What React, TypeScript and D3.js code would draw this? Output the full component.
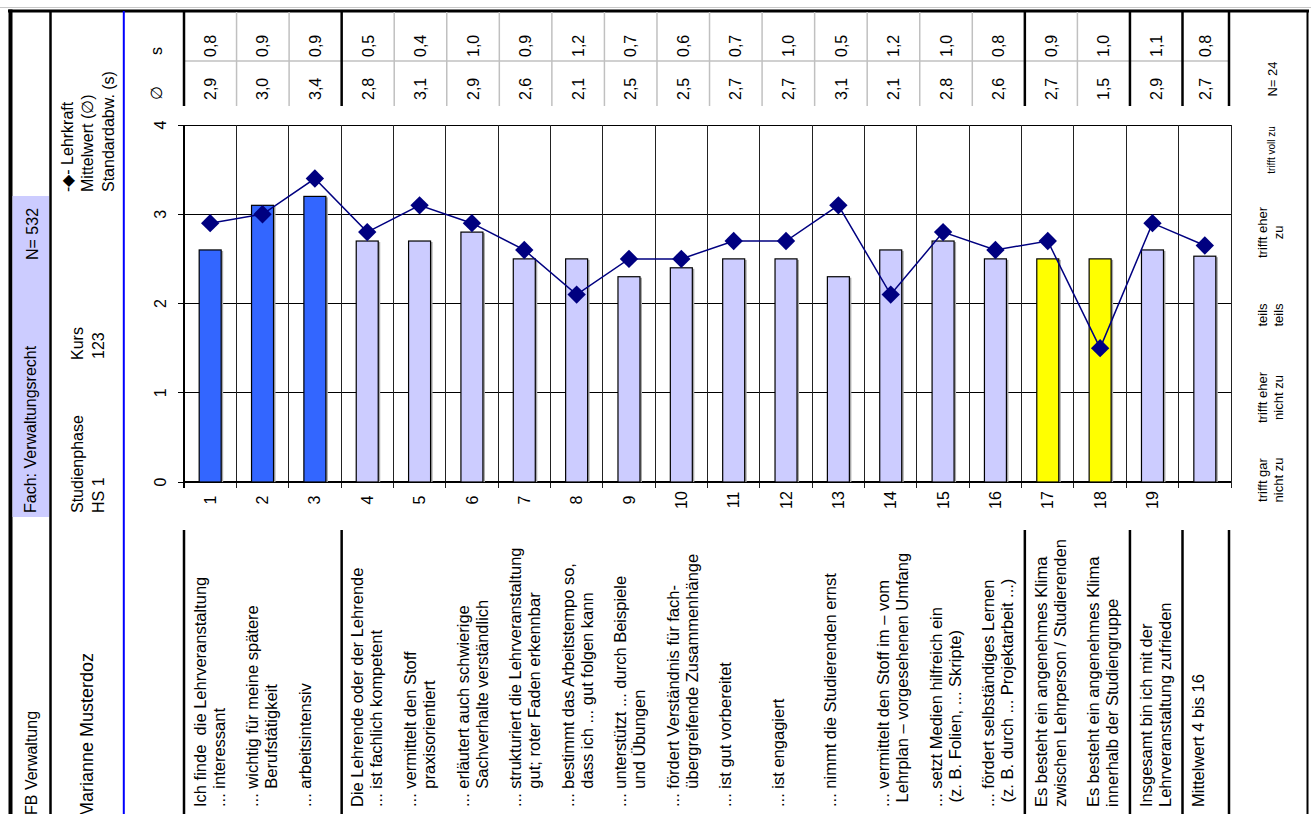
import React from "react";
import * as d3 from "d3";

const W = 1311;
const H = 814;
const FONT = "'Liberation Sans', Arial, sans-serif";

const categories = ["1","2","3","4","5","6","7","8","9","10","11","12","13","14","15","16","17","18","19",""];
const barValues = [2.6,3.1,3.2,2.7,2.7,2.8,2.5,2.5,2.3,2.4,2.5,2.5,2.3,2.6,2.7,2.5,2.5,2.5,2.6,2.53];
const barGroups = ["a","a","a","b","b","b","b","b","b","b","b","b","b","b","b","b","c","c","b","b"];
const teacherMeans = [2.9,3.0,3.4,2.8,3.1,2.9,2.6,2.1,2.5,2.5,2.7,2.7,3.1,2.1,2.8,2.6,2.7,1.5,2.9,2.65];
const meanLabels = ["2,9","3,0","3,4","2,8","3,1","2,9","2,6","2,1","2,5","2,5","2,7","2,7","3,1","2,1","2,8","2,6","2,7","1,5","2,9","2,7"];
const sdLabels = ["0,8","0,9","0,9","0,5","0,4","1,0","0,9","1,2","0,7","0,6","0,7","1,0","0,5","1,2","1,0","0,8","0,9","1,0","1,1","0,8"];
const yTicks = [0,1,2,3,4];
const scaleLabels = [
  ["trifft gar","nicht zu"],
  ["trifft eher","nicht zu"],
  ["teils","teils"],
  ["trifft eher","zu"],
  ["trifft voll zu"],
];
const groupBreaks = [0,3,16,18,19,20];
const itemLabels = [
  ["Ich finde\u00a0 die Lehrveranstaltung","... interessant"],
  ["... wichtig für meine spätere","\u00a0\u00a0\u00a0\u00a0Berufstätigkeit"],
  ["... arbeitsintensiv"],
  ["Die Lehrende oder der Lehrende","... ist fachlich kompetent"],
  ["... vermittelt den Stoff","\u00a0\u00a0\u00a0\u00a0praxisorientiert"],
  ["... erläutert auch schwierige","\u00a0\u00a0\u00a0\u00a0Sachverhalte verständlich"],
  ["... strukturiert die Lehrveranstaltung","\u00a0\u00a0\u00a0\u00a0gut; roter Faden erkennbar"],
  ["... bestimmt das Arbeitstempo so,","\u00a0\u00a0\u00a0\u00a0dass ich ... gut folgen kann"],
  ["... unterstützt ... durch Beispiele","\u00a0\u00a0\u00a0\u00a0und Übungen"],
  ["... fördert Verständnis für fach-","\u00a0\u00a0\u00a0\u00a0übergreifende Zusammenhänge"],
  ["... ist gut vorbereitet"],
  ["... ist engagiert"],
  ["... nimmt die Studierenden ernst"],
  ["... vermittelt den Stoff im – vom","\u00a0Lehrplan – vorgesehenen Umfang"],
  ["... setzt Medien hilfreich ein","\u00a0(z. B. Folien, ... Skripte)"],
  ["... fördert selbständiges Lernen","\u00a0(z. B. durch ... Projektarbeit ...)"],
  ["Es besteht ein angenehmes Klima","zwischen Lehrperson / Studierenden"],
  ["Es besteht ein angenehmes Klima","innerhalb der Studiengruppe"],
  ["Insgesamt bin ich mit der","Lehrveranstaltung zufrieden"],
  ["Mittelwert 4 bis 16"],
];

const groupColors: Record<string, string> = { a: "#3366FF", b: "#CCCCFF", c: "#FFFF00" };

function RText(props: { x: number; y: number; anchor?: string; size?: number; children: any; fill?: string }) {
  const { x, y, anchor = "start", size = 16, children, fill = "#000" } = props;
  return (
    <text
      transform={`translate(${x},${y}) rotate(-90)`}
      textAnchor={anchor as any}
      dy="0.35em"
      fontSize={size}
      fill={fill}
      style={{ whiteSpace: "pre" }}
    >
      {children}
    </text>
  );
}

export default function App() {
  const idx = d3.range(categories.length);
  const x = d3.scaleBand<number>().domain(idx).range([184, 1231]).padding(0);
  const y = d3.scaleLinear().domain([0, 4]).range([482, 125]);
  const tEdge = d3.scaleLinear().domain([0, 19]).range([184, 1182.5]);
  const tableEdge = (i: number) => (i < 20 ? tEdge(i) : 1229);
  const scaleY = d3.scaleLinear().domain([0, 4]).range([480, 150]);
  const bw = x.bandwidth();
  const barW = bw * 0.42;
  const cx = (i: number) => (x(i) as number) + bw / 2;

  const line = d3
    .line<number>()
    .x((_, i) => cx(i))
    .y((d) => y(d));

  const diamond = d3.symbol().type(d3.symbolDiamond2).size(215);

  return (
    <svg
      width={W}
      height={H}
      style={{ position: "absolute", left: 0, top: 0, fontFamily: FONT }}
    >
      <rect x={0} y={0} width={W} height={H} fill="#fff" />
      {/* page frame */}
      <line x1={0} x2={W} y1={7.5} y2={7.5} stroke="#c8c8c8" strokeWidth={1} />
      <line x1={8} x2={1309} y1={11} y2={11} stroke="#000" strokeWidth={3} />
      <line x1={10.5} x2={10.5} y1={9.5} y2={H} stroke="#000" strokeWidth={4} />
      <rect x={12.5} y={196} width={36.5} height={321} fill="#CCCCFF" />
      <line x1={50.5} x2={50.5} y1={11} y2={H} stroke="#000" strokeWidth={2.5} />
      <line x1={123.8} x2={123.8} y1={11} y2={H} stroke="#0000FF" strokeWidth={2} />
      <line x1={1307.5} x2={1307.5} y1={11} y2={H} stroke="#000" strokeWidth={2} />

      {/* header table */}
      <line x1={184} x2={1229} y1={61} y2={61} stroke="#c0c0c0" strokeWidth={1.5} />
      {d3.range(21).map((i) => {
        const thick = groupBreaks.includes(i);
        return (
          <line
            key={"hv" + i}
            x1={tableEdge(i)}
            x2={tableEdge(i)}
            y1={12}
            y2={106}
            stroke={thick ? "#000" : "#c0c0c0"}
            strokeWidth={thick ? 2.5 : 1.5}
          />
        );
      })}
      {sdLabels.map((s, i) => (
        <RText key={"sd" + i} x={(tableEdge(i) + tableEdge(i + 1)) / 2} y={57}>
          {s}
        </RText>
      ))}
      {meanLabels.map((s, i) => (
        <RText key={"mn" + i} x={(tableEdge(i) + tableEdge(i + 1)) / 2} y={100}>
          {s}
        </RText>
      ))}
      <RText x={156} y={51} anchor="middle">s</RText>
      <RText x={156} y={93} anchor="middle">∅</RText>

      {/* bottom table */}
      {groupBreaks.map((i) => (
        <line
          key={"bv" + i}
          x1={tableEdge(i)}
          x2={tableEdge(i)}
          y1={530}
          y2={H}
          stroke="#000"
          strokeWidth={2.5}
        />
      ))}
      {itemLabels.map((lines, i) =>
        lines.map((t, j) => (
          <RText key={"il" + i + "_" + j} x={tableEdge(i) + 16 + j * 19} y={807} size={16.5}>
            {t}
          </RText>
        ))
      )}

      {/* left header */}
      <RText x={31} y={815}>FB Verwaltung</RText>
      <RText x={30} y={513}>Fach: Verwaltungsrecht</RText>
      <RText x={32} y={260}>N= 532</RText>
      <RText x={87} y={817} size={18}>Marianne Musterdoz</RText>
      <RText x={77} y={513}>Studienphase</RText>
      <RText x={98} y={513}>HS 1</RText>
      <RText x={77} y={360}>Kurs</RText>
      <RText x={98} y={359}>123</RText>
      <RText x={67} y={192}>-◆- Lehrkraft</RText>
      <RText x={87} y={192}>Mittelwert (∅)</RText>
      <RText x={108} y={192}>Standardabw. (s)</RText>

      {/* chart gridlines */}
      {yTicks.filter((v) => v > 0).map((v) => (
        <line key={"gh" + v} x1={184} x2={1231} y1={y(v)} y2={y(v)} stroke="#000" strokeWidth={1} shapeRendering="crispEdges" />
      ))}
      {d3.range(1, 21).map((i) => {
        const xx = i < 20 ? (x(i) as number) : 1231;
        return (
          <line key={"gv" + i} x1={xx} x2={xx} y1={y(4)} y2={y(0) + 6} stroke="#222" strokeWidth={1} shapeRendering="crispEdges" />
        );
      })}
      {/* axes */}
      <line x1={184} x2={184} y1={y(4)} y2={y(0) + 6} stroke="#000" strokeWidth={1.2} shapeRendering="crispEdges" />
      <line x1={184} x2={1231} y1={y(0)} y2={y(0)} stroke="#000" strokeWidth={1.2} shapeRendering="crispEdges" />
      {yTicks.map((v) => (
        <g key={"yt" + v}>
          <line x1={178} x2={184} y1={y(v)} y2={y(v)} stroke="#000" strokeWidth={1} shapeRendering="crispEdges" />
          <RText x={160} y={y(v)} anchor="middle">{String(v)}</RText>
        </g>
      ))}
      {categories.map((c, i) => (
        <RText key={"cl" + i} x={cx(i)} y={500} anchor="middle">{c}</RText>
      ))}

      {/* bars */}
      {barValues.map((v, i) => (
        <g key={"b" + i}>
          <rect x={cx(i) - barW / 2 + 2} y={y(v) + 1} width={barW} height={y(0) - y(v) - 1} fill="#a8a8a8" />
          <rect
            x={cx(i) - barW / 2}
            y={y(v)}
            width={barW}
            height={y(0) - y(v)}
            fill={groupColors[barGroups[i]]}
            stroke="#000"
            strokeWidth={1.2}
          />
        </g>
      ))}

      {/* teacher line */}
      <path d={line(teacherMeans) || ""} fill="none" stroke="#000080" strokeWidth={1.5} />
      {teacherMeans.map((v, i) => (
        <path key={"d" + i} d={diamond() || ""} transform={`translate(${cx(i)},${y(v)})`} fill="#000080" />
      ))}

      {/* scale labels */}
      {scaleLabels.map((lines, i) =>
        lines.map((t, j) => (
          <RText
            key={"sl" + i + "_" + j}
            x={lines.length === 1 ? 1271 : 1262 + j * 16}
            y={scaleY(i)}
            anchor="middle"
            size={lines.length === 1 ? 10 : 13}
          >
            {t}
          </RText>
        ))
      )}
      <RText x={1272} y={79} anchor="middle" size={13}>N= 24</RText>
    </svg>
  );
}
